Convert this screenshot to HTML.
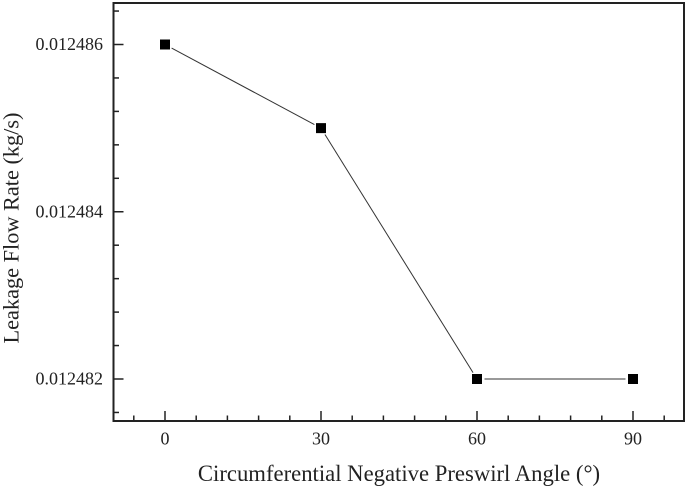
<!DOCTYPE html>
<html>
<head>
<meta charset="utf-8">
<style>
html,body{margin:0;padding:0;background:#fff;}
svg{display:block;font-family:"Liberation Serif",serif;fill:#222;}
</style>
</head>
<body>
<svg id="chart" width="685" height="488" viewBox="0 0 685 488" xmlns="http://www.w3.org/2000/svg">
<rect x="113.5" y="3" width="570.5" height="418" fill="none" stroke="#222" stroke-width="2"/>
<g id="ticks"></g>
<g id="series"></g>
<text x="399" y="481" font-size="22.7" text-anchor="middle">Circumferential Negative Preswirl Angle (°)</text>
<text transform="translate(18.5,228) rotate(-90)" font-size="22.3" text-anchor="middle">Leakage Flow Rate (kg/s)</text>
</svg>
<script>
const categories = [0, 30, 60, 90];
const leakageValues = [0.012486, 0.012485, 0.012482, 0.012482];
const xMajorTicks = [0, 30, 60, 90];
const yMajorTicks = [0.012486, 0.012484, 0.012482];
const xMinorStep = 6;
const yMinorStep = 0.0000004;

const NS = 'http://www.w3.org/2000/svg';
const xScale = v => 165 + (v - 0) * (633 - 165) / 90;
const yScale = v => 44.5 + (0.012486 - v) * (379 - 44.5) / 0.000004;
const plotBottom = 421, plotLeft = 113.5;
const ticksGroup = document.getElementById('ticks');
const seriesGroup = document.getElementById('series');

function make(tag, attrs, parent) {
  const el = document.createElementNS(NS, tag);
  for (const k in attrs) el.setAttribute(k, attrs[k]);
  parent.appendChild(el);
  return el;
}

// X minor ticks
for (let i = -1; i <= 16; i++) {
  const v = i * xMinorStep;
  if (v % 30 === 0) continue;
  const px = xScale(v);
  if (px <= plotLeft || px >= 684) continue;
  const t = make('line', {x1: px, x2: px, y1: plotBottom, y2: plotBottom - 5.5, stroke: '#222', 'stroke-width': 1.5}, ticksGroup);
  
  
}
// X major ticks and labels
xMajorTicks.forEach(v => {
  const px = xScale(v);
  const t = make('line', {x1: px, x2: px, y1: plotBottom, y2: plotBottom - 10, stroke: '#222', 'stroke-width': 1.5}, ticksGroup);
  
  
  const l = make('text', {x: px, y: 444.5, 'font-size': 18, 'text-anchor': 'middle'}, ticksGroup);
  l.textContent = String(v);
  
  
});
// Y minor ticks
for (let i = -1; i <= 11; i++) {
  const v = 0.012486 - i * yMinorStep;
  if (i % 5 === 0) continue;
  const py = yScale(v);
  if (py <= 3 || py >= plotBottom) continue;
  const t = make('line', {x1: plotLeft, x2: plotLeft + 5.5, y1: py, y2: py, stroke: '#222', 'stroke-width': 1.5}, ticksGroup);
  
  
}
// Y major ticks and labels
yMajorTicks.forEach(v => {
  const py = yScale(v);
  const t = make('line', {x1: plotLeft, x2: plotLeft + 10, y1: py, y2: py, stroke: '#222', 'stroke-width': 1.5}, ticksGroup);
  
  
  const l = make('text', {x: 103, y: py + 5.5, 'font-size': 18, 'text-anchor': 'end'}, ticksGroup);
  l.textContent = v.toFixed(6);
  
  
});
// Connecting segments with a gap around each marker
const gap = 7.5;
for (let i = 0; i < categories.length - 1; i++) {
  const x1 = xScale(categories[i]), y1 = yScale(leakageValues[i]);
  const x2 = xScale(categories[i + 1]), y2 = yScale(leakageValues[i + 1]);
  const len = Math.hypot(x2 - x1, y2 - y1) || 1;
  const ux = (x2 - x1) / len, uy = (y2 - y1) / len;
  const s = make('line', {x1: x1 + ux * gap, y1: y1 + uy * gap, x2: x2 - ux * gap, y2: y2 - uy * gap, stroke: '#333', 'stroke-width': 1}, seriesGroup);
  
  
}
// Markers
categories.forEach((c, i) => {
  const m = make('rect', {x: xScale(c) - 5, y: yScale(leakageValues[i]) - 5, width: 10, height: 10, fill: '#000'}, seriesGroup);
  
  
});
</script>
</body>
</html>
